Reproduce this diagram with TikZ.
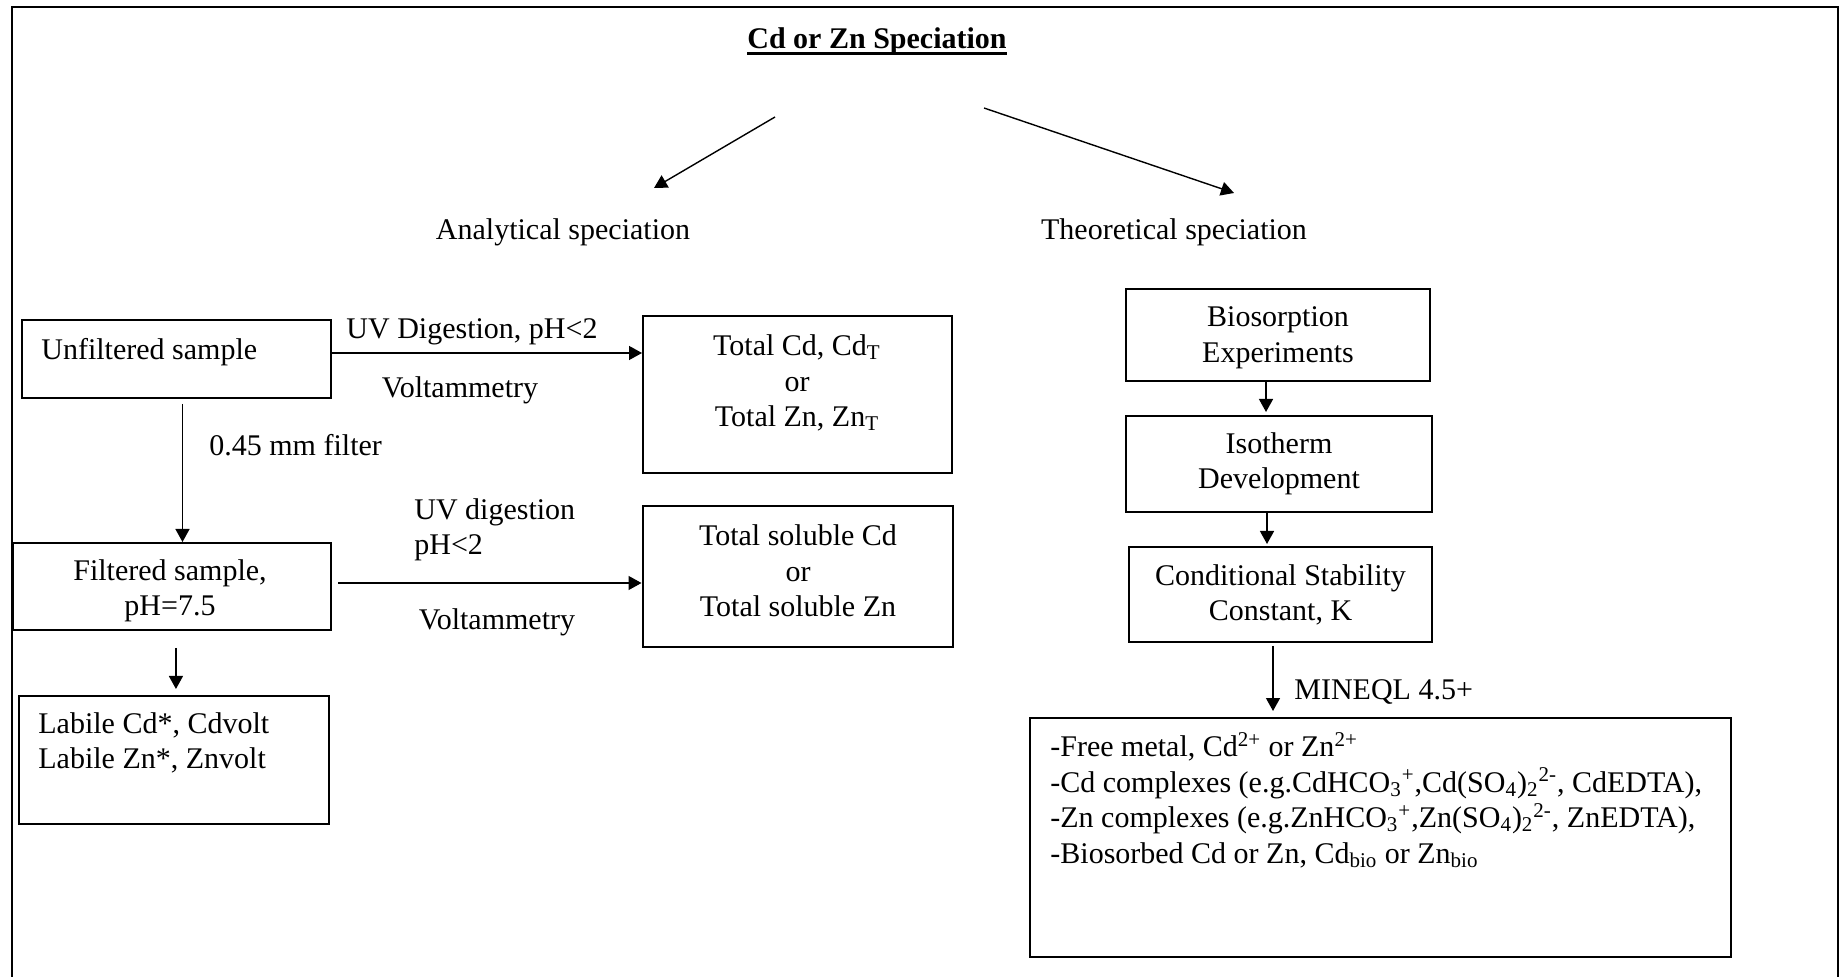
\documentclass[tikz,border=0pt]{standalone}
\usepackage{fontspec}
\setmainfont{Liberation Serif}
\usetikzlibrary{arrows.meta}
\lineskiplimit=-20pt
\begin{document}
\begin{tikzpicture}[x=0.5pt,y=-0.5pt,
  box/.style={draw, line width=1pt, inner sep=0pt},
  txt/.style={font=\fontsize{15}{17.75}\selectfont, inner sep=0pt, yshift=-2.5pt},
  arr/.style={-{Triangle[length=6.5pt,width=7pt]}, line width=0.7pt}]
\useasboundingbox (0,0) rectangle (1846,977);
% frame
\draw[line width=1pt] (12,1000) -- (12,7) -- (1838,7) -- (1838,1000);
% title
\node[txt, font=\fontsize{15}{17.75}\selectfont\bfseries, anchor=base, yshift=1.3pt] (title) at (877,46) {Cd or Zn Speciation};
\draw[line width=1.3pt] ([yshift=-2.6pt]title.base west) -- ([yshift=-2.6pt]title.base east);
% branches
\coordinate (tl) at (775,117);
\coordinate (tle) at (654,188);
\coordinate (tr) at (984,108);
\coordinate (tre) at (1234,193);
\draw[arr] (tl) -- (tle);
\draw[arr] (tr) -- (tre);
\node[txt] (ana) at (563,227) {Analytical speciation};
\node[txt] (theo) at (1174,227) {Theoretical speciation};
% left column
\node[box, minimum width=154.5pt, minimum height=39pt] (unf) at (176.5,359) {};
\node[txt, anchor=west] (unft) at (41,347) {Unfiltered sample};
\node[box, minimum width=154.5pt, minimum height=78.5pt] (totcd) at (797.5,394.5) {};
\node[txt, align=center] (totcdt) at (797,378) {Total Cd, Cd\textsubscript{T}\\or\\Total Zn, Zn\textsubscript{T}};
\draw[arr] ([yshift=3pt]unf.east) -- ([yshift=3pt]unf.east -| totcd.west);
\node[txt] (uv1) at (472,327) {UV Digestion, pH<2};
\node[txt] (volt1) at (460,385) {Voltammetry};
\node[box, minimum width=159.25pt, minimum height=43.5pt] (filt) at (171.75,586.5) {};
\node[txt, align=center] (filtt) at (170,586) {Filtered sample,\\pH=7.5};
\draw[arr] ([xshift=3pt,yshift=-2.5pt]unf.south) coordinate (s1) -- (s1 |- filt.north);
\node[txt, anchor=west] (filter) at (209,440) {0.45 mm filter};
\node[box, minimum width=155.25pt, minimum height=70.5pt] (tsol) at (797.75,576.5) {};
\node[txt, align=center] (tsolt) at (798,566) {Total soluble Cd\\or\\Total soluble Zn};
\draw[arr] ([xshift=3pt,yshift=1.75pt]filt.east) -- ([yshift=1.75pt]filt.east -| tsol.west);
\node[txt, anchor=west, align=left] (uv2) at (414,525) {UV digestion\\pH<2};
\node[txt] (volt2) at (497,617) {Voltammetry};
\node[box, minimum width=155pt, minimum height=64pt] (lab) at (174,760) {};
\node[txt, anchor=west, align=left] (labt) at (38,738) {Labile Cd*, Cdvolt\\Labile Zn*, Znvolt};
\draw[arr] ([xshift=2.1pt,yshift=-8.5pt]filt.south) coordinate (s2) -- ([yshift=3pt]s2 |- lab.north);
% right column
\node[box, minimum width=152pt, minimum height=46pt] (bio) at (1278,335) {};
\node[txt, align=center] (biot) at (1278,333) {Biosorption\\Experiments};
\node[box, minimum width=153pt, minimum height=48pt] (iso) at (1279,464) {};
\node[txt, align=center] (isot) at (1279,459) {Isotherm\\Development};
\node[box, minimum width=151.5pt, minimum height=47.5pt] (cond) at (1280.5,594.5) {};
\node[txt, align=center] (condt) at (1280.5,590) {Conditional Stability\\Constant, K};
\draw[arr] ([xshift=-6pt]bio.south) coordinate (s3) -- ([yshift=1.5pt]s3 |- iso.north);
\draw[arr] ([xshift=-6pt]iso.south) coordinate (s4) -- ([yshift=1pt]s4 |- cond.north);
\node[box, minimum width=350.5pt, minimum height=119.5pt] (res) at (1380.5,837.5) {};
\draw[arr] ([xshift=-3.75pt,yshift=-1.5pt]cond.south) coordinate (s5) -- ([yshift=3pt]s5 |- res.north);
\node[txt, anchor=west] (mineql) at (1294,687) {MINEQL 4.5+};
\node[txt, anchor=west, align=left] (rest) at (1050,795) {-Free metal, Cd\textsuperscript{2+} or Zn\textsuperscript{2+}\\
-Cd complexes (e.g.CdHCO\textsubscript{3}\textsuperscript{+},Cd(SO\textsubscript{4})\textsubscript{2}\textsuperscript{2-}, CdEDTA),\\
-Zn complexes (e.g.ZnHCO\textsubscript{3}\textsuperscript{+},Zn(SO\textsubscript{4})\textsubscript{2}\textsuperscript{2-}, ZnEDTA),\\
-Biosorbed Cd or Zn, Cd\textsubscript{bio} or Zn\textsubscript{bio}};
\end{tikzpicture}
\end{document}
